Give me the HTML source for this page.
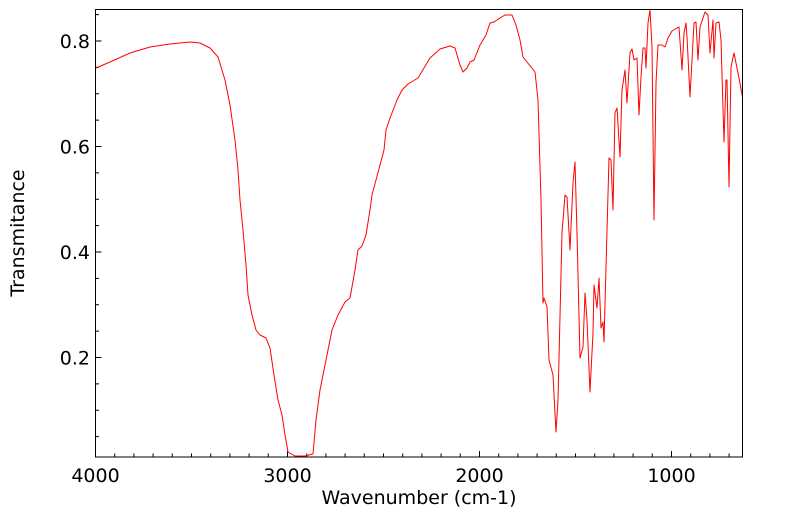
<!DOCTYPE html>
<html><head><style>html,body{margin:0;padding:0;background:#fff;}svg{display:block;}</style></head>
<body>
<svg width="799" height="516" xmlns="http://www.w3.org/2000/svg" font-family="DejaVu Sans, sans-serif">
<rect width="799" height="516" fill="#fff"/>
<g stroke="#000" stroke-width="1">
<path d="M95.5,457v-6M287.5,457v-6M479.5,457v-6M671.5,457v-6"/>
<path d="M114.7,457v-3.5M133.9,457v-3.5M153.1,457v-3.5M172.3,457v-3.5M191.5,457v-3.5M210.7,457v-3.5M229.9,457v-3.5M249.1,457v-3.5M268.3,457v-3.5M306.7,457v-3.5M325.9,457v-3.5M345.1,457v-3.5M364.3,457v-3.5M383.5,457v-3.5M402.7,457v-3.5M421.9,457v-3.5M441.1,457v-3.5M460.3,457v-3.5M498.7,457v-3.5M517.9,457v-3.5M537.1,457v-3.5M556.3,457v-3.5M575.5,457v-3.5M594.7,457v-3.5M613.9,457v-3.5M633.1,457v-3.5M652.3,457v-3.5M690.7,457v-3.5M709.9,457v-3.5M729.1,457v-3.5"/>
<path d="M95.5,41h6M95.5,146.5h6M95.5,252h6M95.5,357.5h6"/>
<path d="M95.5,14.6h3.5M95.5,67.4h3.5M95.5,93.7h3.5M95.5,120.1h3.5M95.5,172.9h3.5M95.5,199.3h3.5M95.5,225.6h3.5M95.5,278.4h3.5M95.5,304.8h3.5M95.5,331.1h3.5M95.5,383.9h3.5M95.5,410.3h3.5M95.5,436.6h3.5"/>
</g>
<polyline fill="none" stroke="#ff0000" stroke-width="1" stroke-linejoin="round" points="96,68 110,62 130,53 150,47 170,44 190,42 200,43 210,48 218,57 225,80 230,105 235,140 238,170 240,200 243,230 246,265 248,295 252,315 256,330 260,335 266,338 270,348 274,375 278,400 282,415 285,435 288,452 295,456 305,456 313,454 316,420 320,390 325,365 332,330 338,315 345,302 350,298 355,270 358,250 362,246 366,235 370,210 372,195 376,180 380,165 384,150 386,130 390,118 397,100 402,90 408,84 418,78 424,68 430,58 440,49 450,46 455,48 460,65 463,72 467,68 470,62 474,60 480,45 486,35 490,23 494,22 500,18 505,15 512,15 516,25 520,40 523,57 535,72 538,100 541,200 543,303 544,298 547,307 549,360 553,375 556,432 558,400 562,233 565,195 567,197 570,250 573,183 575,162 577,233 580,358 583,347 585,293 587,320 590,392 593,333 594,285 597,308 599,278 601,328 603,322 604,342 606,267 609,158 611,160 613,210 615,113 617,108 620,157 622,90 625,70 627,103 630,53 632,49 634,60 637,58 639,115 641,77 643,48 645,48 646,68 648,23 650,10 652,47 654,220 656,83 658,45 662,45 665,47 668,38 672,31 677,28 679,27 682,70 684,33 686,23 687,37 690,97 692,60 694,23 696,22 698,60 700,27 705,12 708,15 710,53 713,20 714,58 716,23 719,22 721,40 724,142 726,80 727,80 729,187 731,67 734,53 736,63 739,78 742.5,97"/>
<rect x="95.5" y="9.5" width="647" height="447.5" fill="none" stroke="#000" stroke-width="1"/>
<g font-size="19" fill="#000">
<text x="90" y="48" text-anchor="end">0.8</text>
<text x="90" y="153.5" text-anchor="end">0.6</text>
<text x="90" y="259" text-anchor="end">0.4</text>
<text x="90" y="364.5" text-anchor="end">0.2</text>
<text x="95.5" y="482" text-anchor="middle">4000</text>
<text x="287.5" y="482" text-anchor="middle">3000</text>
<text x="479.5" y="482" text-anchor="middle">2000</text>
<text x="671.5" y="482" text-anchor="middle">1000</text>
<text x="419" y="504" text-anchor="middle">Wavenumber (cm-1)</text>
<text transform="translate(24,233) rotate(-90)" text-anchor="middle">Transmitance</text>
</g>
</svg>
</body></html>
